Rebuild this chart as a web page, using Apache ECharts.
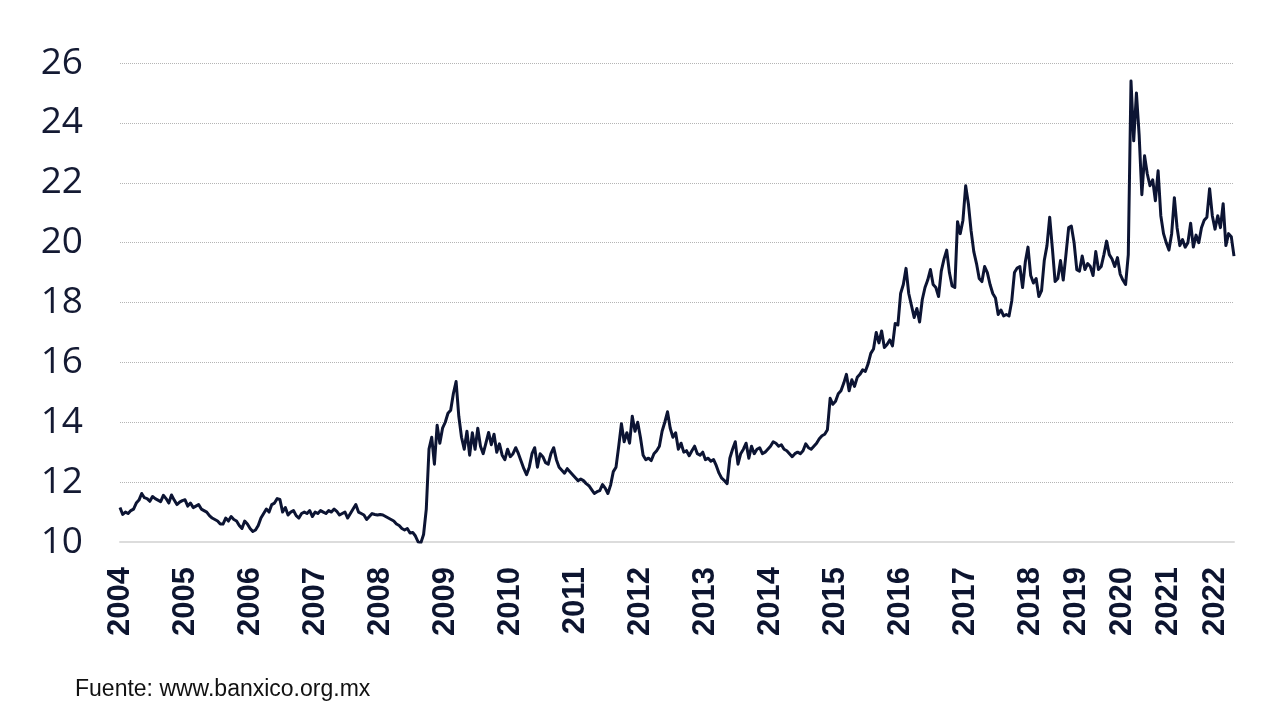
<!DOCTYPE html>
<html>
<head>
<meta charset="utf-8">
<script src="https://cdn.jsdelivr.net/npm/echarts@6/dist/echarts.min.js"></script>
<style>
  html, body { margin: 0; padding: 0; background: #ffffff; }
  #chart { width: 1280px; height: 720px; }
</style>
</head>
<body>
<div id="chart"></div>
<script>
// Tick labels (years) and the values read for each year, in order
const years = ['2004','2005','2006','2007','2008','2009','2010','2011','2012','2013','2014','2015','2016','2017','2018','2019','2020','2021','2022'];

const v2004 = [11.15,10.92,11.0,10.95,11.05,11.1,11.3,11.4,11.62,11.48,11.45,11.36,11.52,11.45,11.4,11.35,11.56,11.45,11.3,11.57,11.4,11.25,11.33,11.38];
const v2005 = [11.41,11.2,11.3,11.15,11.2,11.25,11.1,11.05,11.0,10.88,10.8,10.75,10.7,10.6,10.6,10.8,10.7,10.85,10.75,10.7,10.55,10.45,10.7,10.6];
const v2006 = [10.45,10.35,10.4,10.55,10.8,10.95,11.1,11.0,11.25,11.3,11.45,11.42,11.0,11.15,10.9,11.0,11.05,10.88,10.8,10.95,11.0,10.95,11.05,10.85];
const v2007 = [11.0,10.95,11.05,11.0,10.95,11.05,11.0,11.1,11.02,10.9,10.95,11.0,10.8,10.95,11.1,11.25,11.0,10.95,10.9,10.75,10.85,10.95,10.92,10.9];
const v2008 = [10.92,10.9,10.85,10.8,10.75,10.7,10.6,10.55,10.45,10.4,10.45,10.3,10.32,10.2,10.0,9.97,10.25,11.1,13.1,13.5,12.6,13.9,13.3,13.8];
const v2009 = [14.0,14.3,14.4,14.96,15.36,14.2,13.5,13.1,13.7,12.9,13.65,13.1,13.8,13.2,12.95,13.3,13.66,13.25,13.6,13.0,13.28,12.9,12.75,13.1];
const v2010 = [12.85,12.95,13.15,12.95,12.7,12.45,12.25,12.5,12.95,13.15,12.5,12.95,12.85,12.65,12.6,12.95,13.15,12.75,12.5,12.4,12.3,12.45,12.35,12.25];
const v2011 = [12.15,12.05,12.1,12.05,11.95,11.88,11.75,11.62,11.68,11.72,11.92,11.8,11.62,11.9,12.35,12.5,13.2,13.95,13.35,13.65,13.3,14.2,13.7,14.0];
const v2012 = [13.5,12.9,12.75,12.8,12.72,12.95,13.05,13.2,13.7,14.0,14.35,13.8,13.5,13.65,13.1,13.3,13.0,13.05,12.88,13.05,13.2,12.95,12.9,13.0];
const v2013 = [12.75,12.8,12.7,12.75,12.55,12.3,12.13,12.05,11.95,12.8,13.1,13.35,12.6,12.95,13.1,13.3,12.8,13.2,12.95,13.1,13.15,12.95,13.0,13.1];
const v2014 = [13.2,13.35,13.3,13.2,13.25,13.1,13.05,12.95,12.85,12.95,13.0,12.95,13.05,13.28,13.15,13.1,13.2,13.3,13.45,13.55,13.6,13.75,14.8,14.6];
const v2015 = [14.7,14.95,15.05,15.3,15.6,15.05,15.42,15.2,15.5,15.6,15.75,15.7,15.95,16.3,16.45,17.0,16.65,17.05,16.5,16.6,16.75,16.55,17.3,17.25];
const v2016 = [18.3,18.6,19.14,18.3,17.9,17.5,17.8,17.35,18.1,18.5,18.75,19.1,18.6,18.5,18.2,19.05,19.45,19.75,19.0,18.55,18.5,20.7,20.3,20.75];
const v2017 = [21.9,21.3,20.4,19.7,19.3,18.8,18.7,19.2,19.0,18.6,18.3,18.15,17.6,17.75,17.55,17.6,17.55,18.05,19.0,19.15,19.2,18.5,19.35,19.85];
const v2018 = [18.9,18.65,18.8,18.2,18.4,19.4,19.9,20.85,19.8,18.7,18.8,19.4,18.75,19.6,20.5,20.55,20.0];
const v2019 = [19.1,19.05,19.55,19.1,19.3,19.2,18.9,19.7,19.1,19.2,19.6,20.05,19.6,19.45,19.2,19.5,18.95];
const v2020 = [18.75,18.6,19.6,25.4,23.4,25.0,23.6,21.6,22.9,22.3,21.9,22.1,21.4,22.4,20.9,20.3,20.0];
const v2021 = [19.75,20.3,21.5,20.5,19.9,20.1,19.85,20.0,20.65,19.85,20.25,20.0,20.5,20.75,20.85,21.8,20.9];
const v2022 = [20.45,20.9,20.5,21.3,19.9,20.3,20.2,19.55];

const yearValues = [v2004,v2005,v2006,v2007,v2008,v2009,v2010,v2011,v2012,v2013,v2014,v2015,v2016,v2017,v2018,v2019,v2020,v2021,v2022];

const categories = [];
const values = [];
const yearStart = {};
years.forEach(function (y, yi) {
  yearStart[categories.length] = y;
  yearValues[yi].forEach(function (v, k) {
    categories.push(y + '-' + (k + 1));
    values.push(v);
  });
});

const chart = echarts.init(document.getElementById('chart'), null, { renderer: 'canvas' });
chart.setOption({
  animation: false,
  backgroundColor: '#ffffff',
  grid: { left: 120, right: 46, top: 63, bottom: 178, containLabel: false },
  xAxis: {
    type: 'category',
    data: categories,
    boundaryGap: false,
    axisLine: { show: true, lineStyle: { color: '#dcdcdc', width: 2 } },
    axisTick: { show: false },
    splitLine: { show: false },
    axisLabel: {
      interval: function (idx) { return yearStart[idx] !== undefined; },
      formatter: function (val, idx) { return yearStart[idx] !== undefined ? yearStart[idx] : ''; },
      rotate: 90,
      margin: 25,
      fontFamily: 'Liberation Sans, Arial, sans-serif',
      fontWeight: 'bold',
      fontSize: 31,
      color: '#0d1530'
    }
  },
  yAxis: {
    type: 'value',
    min: 10,
    max: 26,
    interval: 2,
    axisLine: { show: false },
    axisTick: { show: false },
    axisLabel: {
      margin: 37,
      fontFamily: 'Open Sans, sans-serif',
      fontSize: 37,
      color: '#141a33'
    },
    splitLine: { show: true, lineStyle: { color: '#b5b5b5', width: 1, type: 'dotted' } }
  },
  series: [{
    type: 'line',
    data: values,
    showSymbol: false,
    symbol: 'none',
    smooth: false,
    lineStyle: { color: '#0c1433', width: 3, join: 'round' },
    z: 3
  }],
  graphic: [{
    type: 'text',
    left: 75,
    top: 678,
    style: {
      text: 'Fuente: www.banxico.org.mx',
      font: '23px "Liberation Sans Narrow", "Liberation Sans", Arial, sans-serif',
      fill: '#111111'
    }
  }]
});
</script>
</body>
</html>
